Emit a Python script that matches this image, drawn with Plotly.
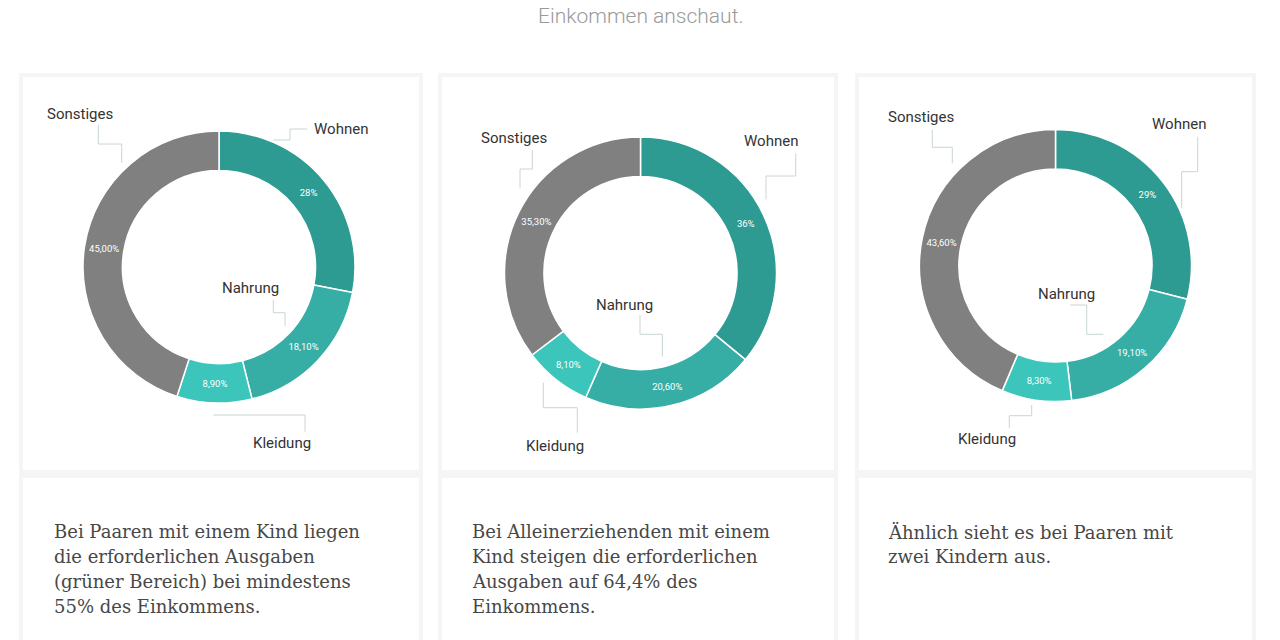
import plotly.graph_objects as go

# ---------------- data ----------------
categories = ["Wohnen", "Nahrung", "Kleidung", "Sonstiges"]
paare_ein_kind = [28.0, 18.1, 8.9, 45.0]
alleinerziehend_ein_kind = [36.0, 20.6, 8.1, 35.3]
paare_zwei_kinder = [29.0, 19.1, 8.3, 43.6]

colors = ["#2e9b93", "#36aea6", "#3cc5ba", "#808080"]

texts_1 = ["Bei Paaren mit einem Kind liegen", "die erforderlichen Ausgaben",
           "(grüner Bereich) bei mindestens", "55% des Einkommens."]
texts_2 = ["Bei Alleinerziehenden mit einem", "Kind steigen die erforderlichen",
           "Ausgaben auf 64,4% des", "Einkommens."]
texts_3 = ["Ähnlich sieht es bei Paaren mit", "zwei Kindern aus."]

W, H = 1280, 640


def fmt(vals):
    out = []
    for i, v in enumerate(vals):
        if i == 0:
            out.append(f"{v:.0f}%")
        else:
            out.append(f"{v:.2f}".replace(".", ",") + "%")
    return out


fig = go.Figure()

# donut geometry (pixels): center x, center y, radius
donuts = [
    (paare_ein_kind, 219, 267),
    (alleinerziehend_ein_kind, 640.5, 273),
    (paare_zwei_kinder, 1055.5, 265.5),
]
R = 136
for vals, cx, cy in donuts:
    fig.add_trace(go.Pie(
        labels=categories, values=vals, text=fmt(vals),
        textinfo="text", textposition="inside",
        insidetextorientation="horizontal",
        textfont=dict(family="Roboto", size=9.5, color="white"),
        hole=0.71, sort=False, direction="clockwise", rotation=0,
        marker=dict(colors=colors, line=dict(color="white", width=1.5)),
        domain=dict(x=[(cx - R) / W, (cx + R) / W],
                    y=[1 - (cy + R) / H, 1 - (cy - R) / H]),
        hoverinfo="skip", showlegend=False,
    ))

# leader lines (pixel coords)
leaders = [
    # donut 1
    [(273.3, 140), (290, 140), (290, 129), (307.3, 129)],
    [(98.3, 125), (98.3, 144), (121.7, 144), (121.7, 162.7)],
    [(273.3, 300), (273.3, 312.7), (285, 312.7), (285, 326)],
    [(213.3, 415), (305, 415), (305, 431.7)],
    # donut 2
    [(795.7, 153.3), (795.7, 176), (766, 176), (766, 199.3)],
    [(532.3, 150), (532.3, 169), (520, 169), (520, 188.3)],
    [(640, 315), (640, 334.3), (662.3, 334.3), (662.3, 356.7)],
    [(543.3, 382.7), (543.3, 407.7), (577.3, 407.7), (577.3, 432.7)],
    # donut 3
    [(1197.7, 136.7), (1197.7, 171.7), (1181.7, 171.7), (1181.7, 208.3)],
    [(932.3, 130), (932.3, 147.3), (952.3, 147.3), (952.3, 163.3)],
    [(1070, 305), (1086.7, 305), (1086.7, 334.3), (1103.3, 334.3)],
    [(1009.3, 428.3), (1009.3, 415.7), (1031.7, 415.7), (1031.7, 405)],
]
for pts in leaders:
    fig.add_trace(go.Scatter(
        x=[p[0] for p in pts], y=[p[1] for p in pts], mode="lines",
        line=dict(color="#c9d6d4", width=1), hoverinfo="skip", showlegend=False,
        xaxis="x", yaxis="y",
    ))

annotations = []
label_pos = [
    [(340.5, 129), (250, 288), (282, 443), (79.5, 114)],
    [(770.5, 141), (624, 305), (554.5, 445.7), (513.5, 137.7)],
    [(1179, 124.3), (1066, 294), (987, 439), (920.5, 117.3)],
]
for pos in label_pos:
    for cat, (x, y) in zip(categories, pos):
        annotations.append(dict(
            x=x, y=y, xref="x", yref="y", text=cat, showarrow=False,
            xanchor="center", yanchor="middle",
            font=dict(family="Roboto", size=15, color="#333333"),
        ))

for lines, x0 in [(texts_1, 52), (texts_2, 470), (texts_3, 886)]:
    for i, line in enumerate(lines):
        annotations.append(dict(
            x=x0, y=531.5 + 25 * i, xref="x", yref="y", text=line,
            showarrow=False, xanchor="left", yanchor="middle",
            font=dict(family="DejaVu Serif", size=18, color="#474747"),
        ))

annotations.append(dict(
    x=640, y=16, xref="x", yref="y", text="Einkommen anschaut.",
    showarrow=False, xanchor="center", yanchor="middle",
    font=dict(family="Roboto", size=21, color="#9a9a9a", weight=300),
))

shapes = []
for x0, x1 in [(21, 421), (440, 836), (857, 1254)]:
    shapes.append(dict(type="rect", xref="x", yref="y", x0=x0, x1=x1, y0=75, y1=472,
                       line=dict(color="#f5f5f5", width=4), fillcolor="white", layer="below"))
    shapes.append(dict(type="rect", xref="x", yref="y", x0=x0, x1=x1, y0=476, y1=660,
                       line=dict(color="#f5f5f5", width=4), fillcolor="white", layer="below"))

fig.update_layout(
    width=W, height=H, autosize=False,
    margin=dict(l=0, r=0, t=0, b=0),
    paper_bgcolor="white", plot_bgcolor="white",
    xaxis=dict(range=[0, W], visible=False, fixedrange=True, domain=[0, 1]),
    yaxis=dict(range=[H, 0], visible=False, fixedrange=True, domain=[0, 1]),
    annotations=annotations, shapes=shapes,
)

fig.write_html("out.html", config={"displayModeBar": False})
